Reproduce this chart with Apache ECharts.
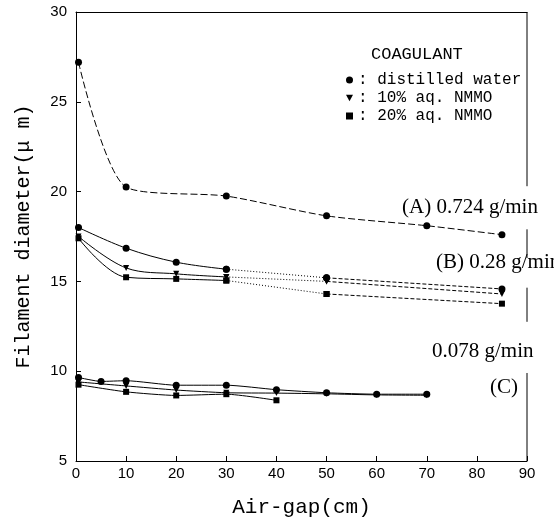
<!DOCTYPE html>
<html>
<head>
<meta charset="utf-8">
<script src="https://cdn.jsdelivr.net/npm/echarts@6/dist/echarts.min.js"></script>
<style>
  html, body { margin: 0; padding: 0; background: #fff; }
  #chart { width: 554px; height: 523px; }
</style>
</head>
<body>
<div id="chart"></div>
<script>
// air-gap (cm) and filament diameter (um)
const gapA = [0.5, 10, 30, 50, 70, 85];
const waterA = [27.2, 20.25, 19.75, 18.65, 18.1, 17.6];

const gapB = [0.5, 10, 20, 30, 50, 85];
const waterB = [18.0, 16.85, 16.07, 15.68, 15.2, 14.58];
const nmmo10B = [17.5, 15.75, 15.42, 15.25, 15.0, 14.3];
const nmmo20B = [17.4, 15.23, 15.14, 15.05, 14.3, 13.76];

const gapWaterC = [0.5, 5, 10, 20, 30, 40, 50, 60, 70];
const waterC = [9.65, 9.43, 9.47, 9.22, 9.22, 8.97, 8.8, 8.72, 8.72];
const gapNmmo10C = [0.5, 10, 20, 30, 40, 50, 60, 70];
const nmmo10C = [9.4, 9.18, 8.95, 8.8, 8.78, 8.74, 8.68, 8.66];
const gapNmmo20C = [0.5, 10, 20, 30, 40];
const nmmo20C = [9.25, 8.85, 8.65, 8.72, 8.38];

const coagulants = ['distilled water', '10% aq. NMMO', '20% aq. NMMO'];
const triDown = 'path://M0,0L10,0L5,9Z';
const symbols = ['circle', triDown, 'rect'];

// right frame is broken where the rate labels sit (y values)
const rightFrame = [[30, 20.3], [17.9, 16.3], [14.65, 12.75], [9.9, 5]];

const pts = (xs, ys) => xs.map((x, i) => [x, ys[i]]);

function line(name, data, symbol, dash, smooth) {
  return {
    name,
    type: 'line',
    data,
    smooth: smooth,
    symbol,
    symbolSize: symbol === 'circle' ? 7 : 6,
    itemStyle: { color: '#000' },
    lineStyle: { color: '#000', width: 1, type: dash },
    animation: false,
    z: 3,
  };
}

const series = [];
// (A) 0.724 g/min
series.push(line(coagulants[0], pts(gapA, waterA), symbols[0], [7, 3], 0.25));
// (B) 0.28 g/min : solid to 30, dotted 30-50, dashed 50-85
[waterB, nmmo10B, nmmo20B].forEach((ys, k) => {
  const p = pts(gapB, ys);
  series.push(line(coagulants[k], p.slice(0, 4), symbols[k], 'solid', 0.35));
  series.push(line(coagulants[k], p.slice(3, 5), symbols[k], [1, 2], false));
  series.push(line(coagulants[k], p.slice(4, 6), symbols[k], [4, 2], false));
});
// (C) 0.078 g/min
series.push(line(coagulants[0], pts(gapWaterC, waterC), symbols[0], 'solid', 0.2));
series.push(line(coagulants[1], pts(gapNmmo10C, nmmo10C), symbols[1], 'solid', 0.2));
series.push(line(coagulants[2], pts(gapNmmo20C, nmmo20C), symbols[2], 'solid', 0.2));

const chart = echarts.init(document.getElementById('chart'));

const option = {
  backgroundColor: '#fff',
  animation: false,
  title: {
    text: 'COAGULANT',
    left: 366,
    top: 41,
    textStyle: { fontFamily: 'Liberation Mono', fontSize: 17, fontWeight: 'normal', color: '#000' },
  },
  legend: {
    orient: 'vertical',
    left: 341,
    top: 67,
    itemGap: 2,
    itemWidth: 7,
    itemHeight: 7,
    selectedMode: false,
    data: coagulants.map((n, i) => ({ name: n, icon: symbols[i] })),
    formatter: n => ': ' + n,
    textStyle: { fontFamily: 'Liberation Mono', fontSize: 16, color: '#000' },
    itemStyle: { color: '#000' },
  },
  grid: { left: 76, right: 27, top: 12, bottom: 62 },
  xAxis: [
    {
      type: 'value',
      min: 0,
      max: 90,
      interval: 10,
      name: 'Air-gap(cm)',
      nameLocation: 'middle',
      nameGap: 36,
      nameTextStyle: { fontFamily: 'Liberation Mono', fontSize: 21, color: '#000' },
      axisLine: { lineStyle: { color: '#000', width: 1 } },
      axisTick: { inside: true, length: 5, lineStyle: { color: '#000' } },
      axisLabel: { margin: 5, fontFamily: 'Liberation Sans', fontSize: 15, color: '#000' },
      splitLine: { show: false },
    },
    {
      type: 'value',
      position: 'top',
      min: 0,
      max: 90,
      axisLine: { show: true, lineStyle: { color: '#000', width: 1 } },
      axisTick: { show: false },
      axisLabel: { show: false },
      splitLine: { show: false },
    },
  ],
  yAxis: {
    type: 'value',
    min: 5,
    max: 30,
    interval: 5,
    name: 'Filament diameter(\u03bc m)',
    nameLocation: 'middle',
    nameGap: 42,
    nameTextStyle: { fontFamily: 'Liberation Mono', fontSize: 20, color: '#000' },
    axisLine: { show: true, lineStyle: { color: '#000', width: 1 } },
    axisTick: { inside: true, length: 5, lineStyle: { color: '#000' } },
    axisLabel: { margin: 9, fontFamily: 'Liberation Sans', fontSize: 15, color: '#000' },
    splitLine: { show: false },
  },
  series,
};

chart.setOption(option);

// labels and broken right-hand frame
const serif = { fontFamily: 'Liberation Serif', fontSize: 21, fill: '#000' };
const frameLines = rightFrame.map(([y1, y2]) => {
  const p1 = chart.convertToPixel({ gridIndex: 0 }, [90, y1]);
  const p2 = chart.convertToPixel({ gridIndex: 0 }, [90, y2]);
  return {
    type: 'line',
    shape: { x1: p1[0], y1: p1[1], x2: p2[0], y2: p2[1] },
    style: { stroke: '#000', lineWidth: 1 },
  };
});

chart.setOption({
  graphic: [
    ...frameLines,
    { type: 'text', left: 402, top: 197, style: { ...serif, text: '(A) 0.724 g/min' } },
    { type: 'text', left: 436, top: 252, style: { ...serif, text: '(B) 0.28 g/min' } },
    { type: 'text', left: 432, top: 341, style: { ...serif, text: '0.078 g/min' } },
    { type: 'text', left: 490, top: 377, style: { ...serif, text: '(C)' } },
  ],
});
</script>
</body>
</html>
